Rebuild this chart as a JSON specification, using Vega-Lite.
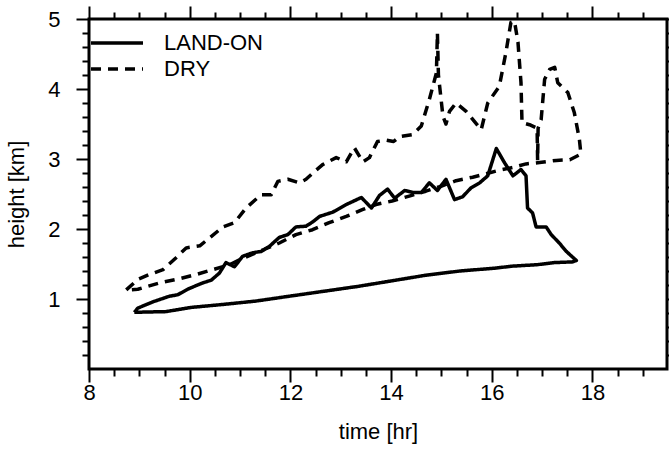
{
  "$schema": "https://vega.github.io/schema/vega-lite/v6.json",
  "width": 578,
  "height": 350,
  "autosize": {"type": "none"},
  "padding": {"left": 89, "top": 19, "right": 2, "bottom": 89},
  "background": "white",
  "config": {
    "view": {"stroke": "black", "strokeWidth": 3},
    "font": "Liberation Sans"
  },
  "datasets": {
    "pts": [
      {"series":"LAND-ON","i":1,"t":8.90,"h":0.81},
      {"series":"LAND-ON","i":2,"t":8.97,"h":0.87},
      {"series":"LAND-ON","i":3,"t":9.27,"h":0.96},
      {"series":"LAND-ON","i":4,"t":9.60,"h":1.04},
      {"series":"LAND-ON","i":5,"t":9.76,"h":1.06},
      {"series":"LAND-ON","i":6,"t":9.99,"h":1.15},
      {"series":"LAND-ON","i":7,"t":10.26,"h":1.23},
      {"series":"LAND-ON","i":8,"t":10.43,"h":1.27},
      {"series":"LAND-ON","i":9,"t":10.59,"h":1.37},
      {"series":"LAND-ON","i":10,"t":10.72,"h":1.52},
      {"series":"LAND-ON","i":11,"t":10.89,"h":1.46},
      {"series":"LAND-ON","i":12,"t":11.05,"h":1.61},
      {"series":"LAND-ON","i":13,"t":11.25,"h":1.66},
      {"series":"LAND-ON","i":14,"t":11.42,"h":1.68},
      {"series":"LAND-ON","i":15,"t":11.58,"h":1.75},
      {"series":"LAND-ON","i":16,"t":11.78,"h":1.88},
      {"series":"LAND-ON","i":17,"t":11.95,"h":1.92},
      {"series":"LAND-ON","i":18,"t":12.11,"h":2.03},
      {"series":"LAND-ON","i":19,"t":12.31,"h":2.04},
      {"series":"LAND-ON","i":20,"t":12.44,"h":2.10},
      {"series":"LAND-ON","i":21,"t":12.58,"h":2.18},
      {"series":"LAND-ON","i":22,"t":12.84,"h":2.24},
      {"series":"LAND-ON","i":23,"t":13.11,"h":2.35},
      {"series":"LAND-ON","i":24,"t":13.41,"h":2.45},
      {"series":"LAND-ON","i":25,"t":13.61,"h":2.30},
      {"series":"LAND-ON","i":26,"t":13.77,"h":2.48},
      {"series":"LAND-ON","i":27,"t":13.93,"h":2.57},
      {"series":"LAND-ON","i":28,"t":14.07,"h":2.44},
      {"series":"LAND-ON","i":29,"t":14.27,"h":2.55},
      {"series":"LAND-ON","i":30,"t":14.45,"h":2.52},
      {"series":"LAND-ON","i":31,"t":14.60,"h":2.52},
      {"series":"LAND-ON","i":32,"t":14.76,"h":2.66},
      {"series":"LAND-ON","i":33,"t":14.92,"h":2.55},
      {"series":"LAND-ON","i":34,"t":15.09,"h":2.71},
      {"series":"LAND-ON","i":35,"t":15.26,"h":2.42},
      {"series":"LAND-ON","i":36,"t":15.42,"h":2.46},
      {"series":"LAND-ON","i":37,"t":15.59,"h":2.59},
      {"series":"LAND-ON","i":38,"t":15.76,"h":2.66},
      {"series":"LAND-ON","i":39,"t":15.92,"h":2.76},
      {"series":"LAND-ON","i":40,"t":16.09,"h":3.15},
      {"series":"LAND-ON","i":41,"t":16.25,"h":2.95},
      {"series":"LAND-ON","i":42,"t":16.42,"h":2.76},
      {"series":"LAND-ON","i":43,"t":16.58,"h":2.85},
      {"series":"LAND-ON","i":44,"t":16.68,"h":2.76},
      {"series":"LAND-ON","i":45,"t":16.71,"h":2.30},
      {"series":"LAND-ON","i":46,"t":16.81,"h":2.23},
      {"series":"LAND-ON","i":47,"t":16.88,"h":2.03},
      {"series":"LAND-ON","i":48,"t":17.08,"h":2.03},
      {"series":"LAND-ON","i":49,"t":17.18,"h":1.92},
      {"series":"LAND-ON","i":50,"t":17.34,"h":1.80},
      {"series":"LAND-ON","i":51,"t":17.48,"h":1.68},
      {"series":"LAND-ON","i":52,"t":17.68,"h":1.55},
      {"series":"LAND-ON","i":53,"t":17.60,"h":1.53},
      {"series":"LAND-ON","i":54,"t":17.24,"h":1.52},
      {"series":"LAND-ON","i":55,"t":16.90,"h":1.49},
      {"series":"LAND-ON","i":56,"t":16.42,"h":1.47},
      {"series":"LAND-ON","i":57,"t":16.05,"h":1.44},
      {"series":"LAND-ON","i":58,"t":15.37,"h":1.40},
      {"series":"LAND-ON","i":59,"t":14.69,"h":1.34},
      {"series":"LAND-ON","i":60,"t":14.02,"h":1.26},
      {"series":"LAND-ON","i":61,"t":13.34,"h":1.18},
      {"series":"LAND-ON","i":62,"t":12.66,"h":1.11},
      {"series":"LAND-ON","i":63,"t":11.98,"h":1.04},
      {"series":"LAND-ON","i":64,"t":11.31,"h":0.97},
      {"series":"LAND-ON","i":65,"t":10.63,"h":0.92},
      {"series":"LAND-ON","i":66,"t":10.03,"h":0.88},
      {"series":"LAND-ON","i":67,"t":9.53,"h":0.82},
      {"series":"LAND-ON","i":68,"t":8.90,"h":0.81},
      {"series":"DRY","i":1,"t":8.74,"h":1.13},
      {"series":"DRY","i":2,"t":8.97,"h":1.28},
      {"series":"DRY","i":3,"t":9.20,"h":1.35},
      {"series":"DRY","i":4,"t":9.47,"h":1.42},
      {"series":"DRY","i":5,"t":9.73,"h":1.59},
      {"series":"DRY","i":6,"t":9.93,"h":1.73},
      {"series":"DRY","i":7,"t":10.20,"h":1.76},
      {"series":"DRY","i":8,"t":10.39,"h":1.87},
      {"series":"DRY","i":9,"t":10.66,"h":2.03},
      {"series":"DRY","i":10,"t":10.89,"h":2.09},
      {"series":"DRY","i":11,"t":11.12,"h":2.30},
      {"series":"DRY","i":12,"t":11.42,"h":2.49},
      {"series":"DRY","i":13,"t":11.62,"h":2.49},
      {"series":"DRY","i":14,"t":11.75,"h":2.68},
      {"series":"DRY","i":15,"t":11.95,"h":2.71},
      {"series":"DRY","i":16,"t":12.18,"h":2.66},
      {"series":"DRY","i":17,"t":12.31,"h":2.71},
      {"series":"DRY","i":18,"t":12.48,"h":2.82},
      {"series":"DRY","i":19,"t":12.64,"h":2.92},
      {"series":"DRY","i":20,"t":12.91,"h":3.02},
      {"series":"DRY","i":21,"t":13.11,"h":2.96},
      {"series":"DRY","i":22,"t":13.27,"h":3.16},
      {"series":"DRY","i":23,"t":13.44,"h":2.96},
      {"series":"DRY","i":24,"t":13.57,"h":3.02},
      {"series":"DRY","i":25,"t":13.73,"h":3.25},
      {"series":"DRY","i":26,"t":13.90,"h":3.27},
      {"series":"DRY","i":27,"t":14.05,"h":3.25},
      {"series":"DRY","i":28,"t":14.17,"h":3.32},
      {"series":"DRY","i":29,"t":14.43,"h":3.35},
      {"series":"DRY","i":30,"t":14.60,"h":3.47},
      {"series":"DRY","i":31,"t":14.76,"h":3.85},
      {"series":"DRY","i":32,"t":14.90,"h":4.23},
      {"series":"DRY","i":33,"t":14.92,"h":4.80},
      {"series":"DRY","i":34,"t":14.94,"h":4.20},
      {"series":"DRY","i":35,"t":15.03,"h":3.61},
      {"series":"DRY","i":36,"t":15.09,"h":3.50},
      {"series":"DRY","i":37,"t":15.16,"h":3.68},
      {"series":"DRY","i":38,"t":15.29,"h":3.80},
      {"series":"DRY","i":39,"t":15.49,"h":3.68},
      {"series":"DRY","i":40,"t":15.79,"h":3.42},
      {"series":"DRY","i":41,"t":15.92,"h":3.80},
      {"series":"DRY","i":42,"t":16.15,"h":4.04},
      {"series":"DRY","i":43,"t":16.28,"h":4.52},
      {"series":"DRY","i":44,"t":16.38,"h":4.95},
      {"series":"DRY","i":45,"t":16.45,"h":4.97},
      {"series":"DRY","i":46,"t":16.52,"h":4.67},
      {"series":"DRY","i":47,"t":16.58,"h":4.09},
      {"series":"DRY","i":48,"t":16.60,"h":3.52},
      {"series":"DRY","i":49,"t":16.75,"h":3.49},
      {"series":"DRY","i":50,"t":16.90,"h":3.44},
      {"series":"DRY","i":51,"t":16.91,"h":2.98},
      {"series":"DRY","i":52,"t":16.92,"h":3.44},
      {"series":"DRY","i":53,"t":16.98,"h":3.56},
      {"series":"DRY","i":54,"t":17.05,"h":4.14},
      {"series":"DRY","i":55,"t":17.15,"h":4.28},
      {"series":"DRY","i":56,"t":17.25,"h":4.31},
      {"series":"DRY","i":57,"t":17.31,"h":4.09},
      {"series":"DRY","i":58,"t":17.51,"h":3.95},
      {"series":"DRY","i":59,"t":17.64,"h":3.66},
      {"series":"DRY","i":60,"t":17.74,"h":3.28},
      {"series":"DRY","i":61,"t":17.77,"h":3.07},
      {"series":"DRY","i":62,"t":17.55,"h":2.99},
      {"series":"DRY","i":63,"t":17.28,"h":2.98},
      {"series":"DRY","i":64,"t":16.95,"h":2.95},
      {"series":"DRY","i":65,"t":16.68,"h":2.93},
      {"series":"DRY","i":66,"t":16.42,"h":2.88},
      {"series":"DRY","i":67,"t":16.15,"h":2.84},
      {"series":"DRY","i":68,"t":15.89,"h":2.79},
      {"series":"DRY","i":69,"t":15.62,"h":2.74},
      {"series":"DRY","i":70,"t":15.29,"h":2.69},
      {"series":"DRY","i":71,"t":14.99,"h":2.61},
      {"series":"DRY","i":72,"t":14.69,"h":2.54},
      {"series":"DRY","i":73,"t":14.36,"h":2.47},
      {"series":"DRY","i":74,"t":14.02,"h":2.40},
      {"series":"DRY","i":75,"t":13.70,"h":2.35},
      {"series":"DRY","i":76,"t":13.44,"h":2.28},
      {"series":"DRY","i":77,"t":13.11,"h":2.18},
      {"series":"DRY","i":78,"t":12.77,"h":2.09},
      {"series":"DRY","i":79,"t":12.44,"h":1.99},
      {"series":"DRY","i":80,"t":12.11,"h":1.92},
      {"series":"DRY","i":81,"t":11.78,"h":1.80},
      {"series":"DRY","i":82,"t":11.45,"h":1.70},
      {"series":"DRY","i":83,"t":10.99,"h":1.56},
      {"series":"DRY","i":84,"t":10.79,"h":1.49},
      {"series":"DRY","i":85,"t":10.46,"h":1.42},
      {"series":"DRY","i":86,"t":10.13,"h":1.35},
      {"series":"DRY","i":87,"t":9.80,"h":1.29},
      {"series":"DRY","i":88,"t":9.40,"h":1.23},
      {"series":"DRY","i":89,"t":8.97,"h":1.14},
      {"series":"DRY","i":90,"t":8.80,"h":1.13}
    ]
  },
  "data": {"name": "pts"},
  "layer": [
    {
      "mark": {"type": "line", "strokeWidth": 3.5, "color": "black", "strokeJoin": "round"},
      "encoding": {
        "x": {
          "field": "t", "type": "quantitative",
          "scale": {"domain": [8, 19.48], "nice": false, "zero": false},
          "axis": {
            "orient": "bottom",
            "values": [8, 8.5, 9, 9.5, 10, 10.5, 11, 11.5, 12, 12.5, 13, 13.5, 14, 14.5, 15, 15.5, 16, 16.5, 17, 17.5, 18, 18.5, 19],
            "domain": false, "grid": false,
            "tickColor": "black", "tickWidth": 2,
            "tickSize": {"condition": {"test": "datum.value % 2 === 0", "value": 13}, "value": 7},
            "labelExpr": "datum.value % 2 === 0 ? format(datum.value, 'd') : ''",
            "labelFontSize": 22, "labelColor": "black", "labelPadding": 0,
            "labelOverlap": false, "labelFlush": false,
            "title": "time [hr]", "titleFontSize": 22, "titleFontWeight": "normal",
            "titleColor": "black", "titlePadding": 18
          }
        },
        "y": {
          "field": "h", "type": "quantitative",
          "scale": {"domain": [0, 5], "nice": false, "zero": false},
          "axis": {
            "orient": "left",
            "values": [0.2, 0.4, 0.6, 0.8, 1, 1.2, 1.4, 1.6, 1.8, 2, 2.2, 2.4, 2.6, 2.8, 3, 3.2, 3.4, 3.6, 3.8, 4, 4.2, 4.4, 4.6, 4.8, 5],
            "domain": false, "grid": false,
            "tickColor": "black", "tickWidth": 2,
            "tickSize": {"condition": {"test": "datum.value === round(datum.value)", "value": 13}, "value": 7},
            "labelExpr": "datum.value === round(datum.value) ? format(datum.value, 'd') : ''",
            "labelFontSize": 22, "labelColor": "black", "labelPadding": 16,
            "labelOverlap": false, "labelFlush": false,
            "title": "height [km]", "titleFontSize": 22, "titleFontWeight": "normal",
            "titleColor": "black", "titlePadding": 19
          }
        },
        "strokeDash": {
          "field": "series", "type": "nominal",
          "scale": {"domain": ["LAND-ON", "DRY"], "range": [[1, 0], [10, 7]]},
          "legend": {
            "title": null, "orient": "none", "legendX": 0, "legendY": 14,
            "symbolType": "stroke", "symbolSize": 2704, "symbolStrokeWidth": 3.5,
            "symbolStrokeColor": "black", "labelFontSize": 22, "labelColor": "black",
            "labelOffset": 19, "padding": 0, "rowPadding": 4, "clipHeight": 20
          }
        },
        "order": {"field": "i", "type": "quantitative"}
      }
    },
    {
      "mark": {"type": "line", "opacity": 0},
      "encoding": {
        "x": {
          "field": "t", "type": "quantitative",
          "axis": {
            "orient": "top",
            "values": [8, 8.5, 9, 9.5, 10, 10.5, 11, 11.5, 12, 12.5, 13, 13.5, 14, 14.5, 15, 15.5, 16, 16.5, 17, 17.5, 18, 18.5, 19],
            "domain": false, "grid": false, "labels": false, "title": null,
            "tickColor": "black", "tickWidth": 2,
            "tickSize": {"condition": {"test": "datum.value % 2 === 0", "value": 13}, "value": 7}
          }
        },
        "y": {
          "field": "h", "type": "quantitative",
          "axis": {
            "orient": "right",
            "values": [0.2, 0.4, 0.6, 0.8, 1, 1.2, 1.4, 1.6, 1.8, 2, 2.2, 2.4, 2.6, 2.8, 3, 3.2, 3.4, 3.6, 3.8, 4, 4.2, 4.4, 4.6, 4.8, 5],
            "domain": false, "grid": false, "labels": false, "title": null,
            "tickColor": "black", "tickWidth": 2,
            "tickSize": {"condition": {"test": "datum.value === round(datum.value)", "value": 13}, "value": 7}
          }
        },
        "detail": {"field": "series", "type": "nominal"},
        "order": {"field": "i", "type": "quantitative"}
      }
    }
  ],
  "resolve": {"axis": {"x": "independent", "y": "independent"}}
}
